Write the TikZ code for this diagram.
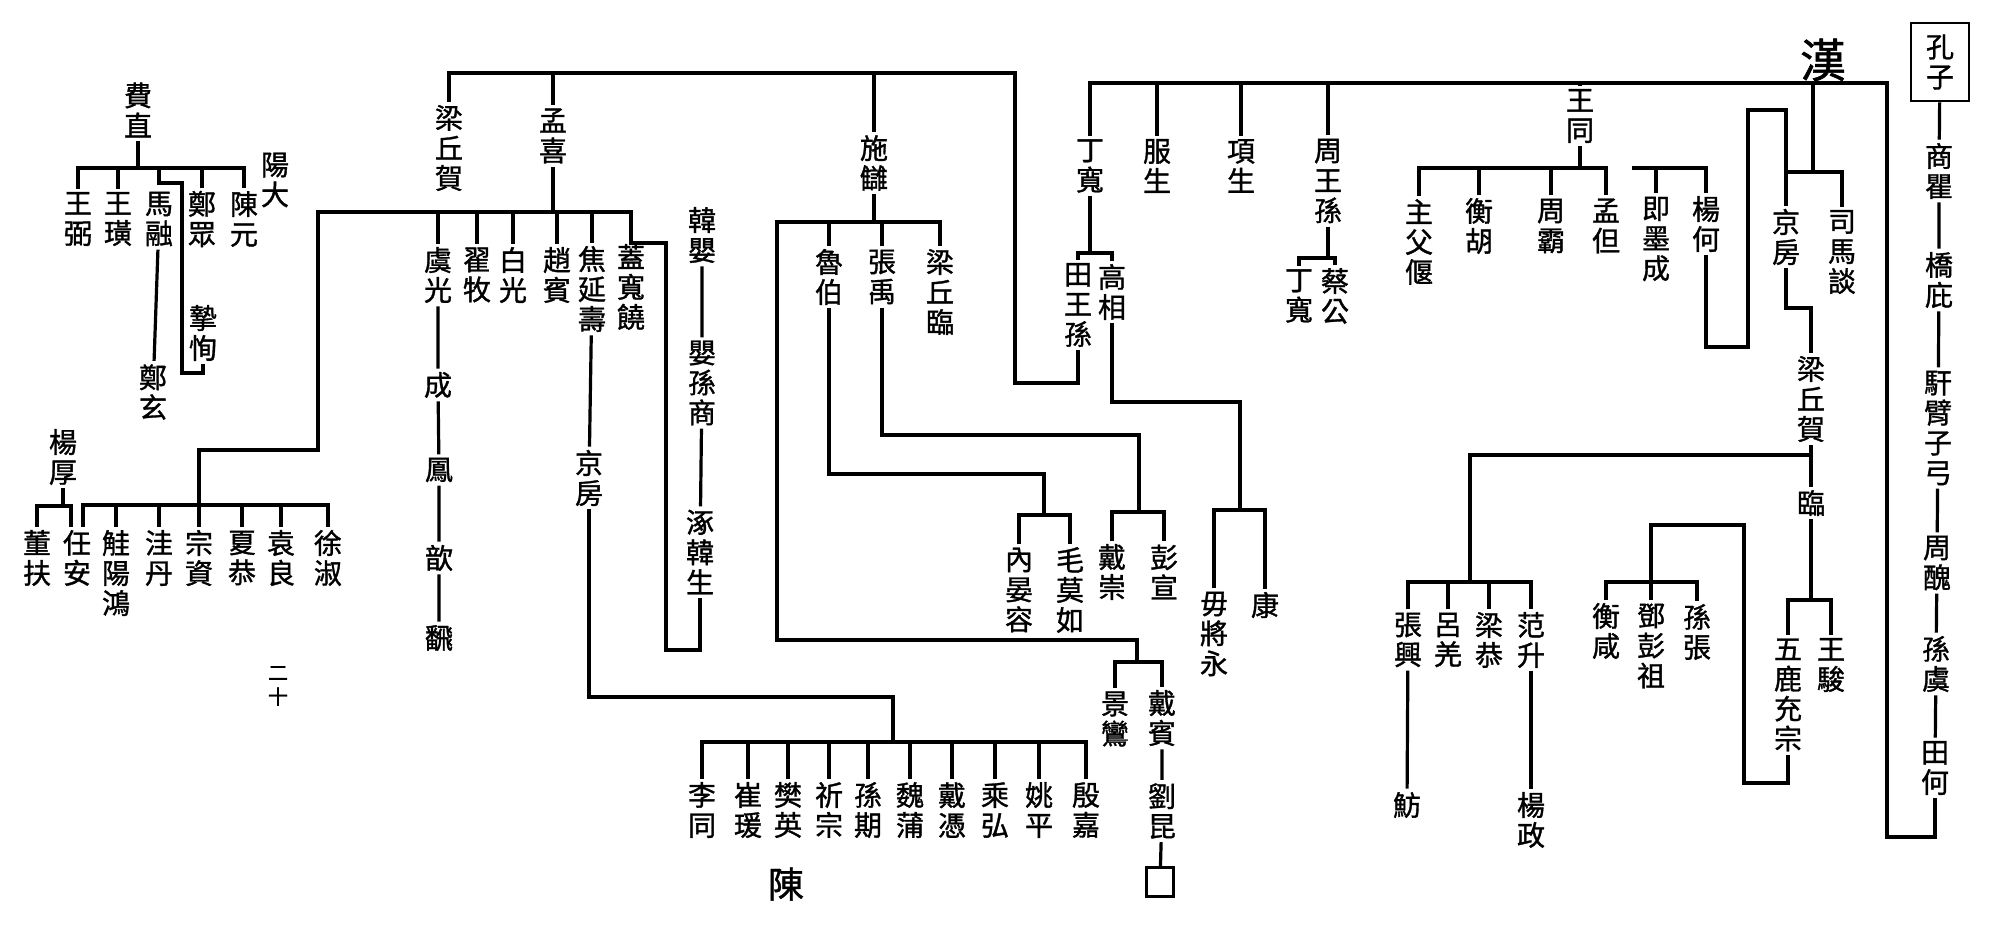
\documentclass[tikz,border=0pt]{standalone}
\usepackage{fontspec}
\newfontfamily\cjk[FakeBold=1.2]{Noto Sans CJK TC}
\begin{document}
\begin{tikzpicture}[x=0.5pt, y=-0.5pt,
  nm/.style={font=\cjk\fontsize{14}{15}\selectfont, align=center, inner sep=1.5pt},
  ln/.style={line width=1.6pt}]
  \useasboundingbox (0,0) rectangle (1990,930);

  % Confucius chain
  \node[nm, draw, line width=1.3pt, minimum width=29pt, minimum height=39pt] (kongzi) at (1940,62) {孔\\子};
  \node[nm] (shangqu) at (1939,171) {商\\瞿};
  \node[nm] (qiaobi) at (1939,280) {橋\\庇};
  \node[nm] (hanbi) at (1938,428) {馯\\臂\\子\\弓};
  \node[nm] (zhouchou) at (1937,563) {周\\醜};
  \node[nm] (sunyu) at (1936,664) {孫\\虞};
  \node[nm] (tianhe) at (1935,768) {田\\何};
  \node[font=\cjk\fontsize{23}{23}\selectfont, inner sep=0pt] (han) at (1823,60) {漢};
  \draw[ln] (kongzi) -- (shangqu) -- (qiaobi) -- (hanbi) -- (zhouchou) -- (sunyu) -- (tianhe);

  % Han trunk
  \node[nm] (dingkuan) at (1090,166) {丁\\寬};
  \node[nm] (fusheng) at (1157,166) {服\\生};
  \node[nm] (xiangsheng) at (1241,166) {項\\生};
  \node[nm] (zhouwangsun) at (1328,181) {周\\王\\孫};
  \node[nm] (wangtong) at (1580,116) {王\\同};
  \draw[ln] (tianhe) -- (tianhe |- 0,837) -| (1887,83) -| (dingkuan);
  \foreach \n in {fusheng,xiangsheng,zhouwangsun,wangtong}
    \draw[ln] (\n) -- (\n |- 0,83);

  % Ding Kuan, Zhou Wangsun
  \node[nm] (tianwangsun) at (1078,305) {田\\王\\孫};
  \node[nm] (gaoxiang) at (1112,292) {高\\相};
  \node[nm] (dingkuanb) at (1299,296) {丁\\寬};
  \node[nm] (caigong) at (1335,296) {蔡\\公};
  \draw[ln] (dingkuan) -- (dingkuan |- 0,253);
  \draw[ln] (tianwangsun) |- (gaoxiang |- 0,253) -- (gaoxiang);
  \draw[ln] (zhouwangsun) -- (zhouwangsun |- 0,258);
  \draw[ln] (dingkuanb) |- (caigong |- 0,258) -- (caigong);

  % Gao Xiang
  \node[nm] (wujiangyong) at (1214,634) {毋\\將\\永};
  \node[nm] (kang) at (1265,605) {康};
  \draw[ln] (gaoxiang) -- (gaoxiang |- 0,402) -| (1240,510);
  \draw[ln] (wujiangyong) |- (kang |- 0,510) -- (kang);

  % Tian Wangsun
  \node[nm] (liangqiuhe) at (449,148) {梁\\丘\\賀};
  \node[nm] (mengxi) at (553,136) {孟\\喜};
  \node[nm] (shichou) at (874,163) {施\\讎};
  \draw[ln] (tianwangsun) -- (tianwangsun |- 0,383) -| (1015,73) -| (liangqiuhe);
  \foreach \n in {mengxi,shichou}
    \draw[ln] (\n) -- (\n |- 0,73);

  % Shi Chou
  \node[nm] (lubo) at (829,277) {魯\\伯};
  \node[nm] (zhangyu) at (882,277) {張\\禹};
  \node[nm] (liangqiulin) at (940,292) {梁\\丘\\臨};
  \node[nm] (neiyanrong) at (1019,590) {內\\晏\\容};
  \node[nm] (maomoru) at (1070,590) {毛\\莫\\如};
  \node[nm] (daichong) at (1112,572) {戴\\崇};
  \node[nm] (pengxuan) at (1164,572) {彭\\宣};
  \node[nm] (jingluan) at (1115,719) {景\\鸞};
  \node[nm] (daibin) at (1162,718) {戴\\賓};
  \node[nm] (liukun) at (1162,811) {劉\\昆};
  \node[draw, line width=1.1pt, minimum width=13.5pt, minimum height=14.5pt] (emptybox) at (1160,882) {};
  \draw[ln] (shichou) -- (shichou |- 0,222);
  \draw[ln] (liangqiulin) |- (777,222) -- (777,640) -| (1137,662);
  \foreach \n in {lubo,zhangyu}
    \draw[ln] (\n) -- (\n |- 0,222);
  \draw[ln] (lubo) -- (lubo |- 0,474) -| (1044,515);
  \draw[ln] (neiyanrong) |- (maomoru |- 0,515) -- (maomoru);
  \draw[ln] (zhangyu) -- (zhangyu |- 0,435) -| (1139,512);
  \draw[ln] (daichong) |- (pengxuan |- 0,512) -- (pengxuan);
  \draw[ln] (jingluan) |- (daibin |- 0,662) -- (daibin);
  \draw[ln] (daibin) -- (liukun) -- (emptybox);

  % Meng Xi
  \node[nm] (yuguang) at (438,275) {虞\\光};
  \node[nm] (zhaimu) at (477,275) {翟\\牧};
  \node[nm] (baiguang) at (513,275) {白\\光};
  \node[nm] (zhaobin) at (557,275) {趙\\賓};
  \node[nm] (jiaoyanshou) at (592,289) {焦\\延\\壽};
  \node[nm] (gaikuanrao) at (631,287) {蓋\\寬\\饒};
  \node[nm] (cheng) at (438,385) {成};
  \node[nm] (feng) at (439,470) {鳳};
  \node[nm] (xin) at (439,558) {歆};
  \node[nm] (fan) at (439,638) {飜};
  \node[nm] (hanying) at (702,235) {韓\\嬰};
  \node[nm] (yingsunshang) at (702,383) {嬰\\孫\\商};
  \node[nm] (zhuohansheng) at (700,552) {涿\\韓\\生};
  \draw[ln] (mengxi) -- (mengxi |- 0,212);
  \foreach \n in {yuguang,zhaimu,baiguang,zhaobin,jiaoyanshou}
    \draw[ln] (\n) -- (\n |- 0,212);
  \draw[ln] (yuguang) -- (cheng) -- (feng) -- (xin) -- (fan);
  \draw[ln] (hanying) -- (yingsunshang) -- (zhuohansheng);

  % Eastern Han Meng school
  \node[nm] (yanghou) at (63,457) {楊\\厚};
  \node[nm] (dongfu) at (37,558) {董\\扶};
  \node[nm] (renan) at (77,558) {任\\安};
  \node[nm] (guiyanghong) at (116,573) {觟\\陽\\鴻};
  \node[nm] (wadan) at (159,558) {洼\\丹};
  \node[nm] (zongzi) at (199,558) {宗\\資};
  \node[nm] (xiagong) at (242,558) {夏\\恭};
  \node[nm] (yuanliang) at (281,558) {袁\\良};
  \node[nm] (xushu) at (328,558) {徐\\淑};
  \coordinate (renanl) at ([xshift=-3pt]renan.north);
  \coordinate (renanr) at ([xshift=3pt]renan.north);
  \draw[ln] (zongzi) -- (zongzi |- 0,450) -| (318,212) -| (631,243) -| (666,650) -| (zhuohansheng);
  \draw[ln] (renanr) |- (xushu |- 0,505) -- (xushu);
  \foreach \n in {guiyanghong,wadan,xiagong,yuanliang}
    \draw[ln] (\n) -- (\n |- 0,505);
  \draw[ln] (yanghou) -- (yanghou |- 0,506);
  \draw[ln] (dongfu) |- (renanl |- 0,506) -- (renanl);

  % Jing Fang (Jiao Yanshou)
  \node[nm] (jingfanga) at (589,478) {京\\房};
  \draw[ln] (jiaoyanshou) -- (jingfanga);
  \draw[ln] (jingfanga) -- (jingfanga |- 0,697) -| (893,742);
  \foreach \n/\x/\t in {liton/702/李\\同, cuiyuan/748/崔\\瑗, fanying/788/樊\\英,
      qizong/829/祈\\宗, sunqi/868/孫\\期, weipu/910/魏\\蒲, daiping/952/戴\\憑,
      chenghong/995/乘\\弘, yaoping/1039/姚\\平, yinjia/1086/殷\\嘉}
    \node[nm] (\n) at (\x,810) {\t};
  \draw[ln] (liton) |- (yinjia |- 0,742) -- (yinjia);
  \foreach \n in {cuiyuan,fanying,qizong,sunqi,weipu,daiping,chenghong,yaoping}
    \draw[ln] (\n) -- (\n |- 0,742);
  \node[font=\cjk\fontsize{18}{18}\selectfont, inner sep=0pt] (chen) at (786,884) {陳};

  % Fei Zhi
  \node[nm] (feizhi) at (138,110) {費\\直};
  \node[nm] (wangbi) at (78,219) {王\\弼};
  \node[nm] (wanghuang) at (118,219) {王\\璜};
  \node[nm] (marong) at (159,219) {馬\\融};
  \node[nm] (zhengzhong) at (202,219) {鄭\\眾};
  \node[nm] (chenyuan) at (244,219) {陳\\元};
  \node[nm] (yangda) at (275,180) {陽\\大};
  \node[nm] (zhixun) at (203,333) {摯\\恂};
  \node[nm] (zhengxuan) at (153,392) {鄭\\玄};
  \draw[ln] (feizhi) -- (feizhi |- 0,168);
  \draw[ln] (wangbi) |- (chenyuan |- 0,168) -- (chenyuan);
  \foreach \n in {wanghuang,zhengzhong}
    \draw[ln] (\n) -- (\n |- 0,168);
  \draw[ln] (marong |- 0,168) |- (182,183) -- (182,373) -| (zhixun);
  \draw[ln] (marong) -- (zhengxuan);

  % page number
  \node[font=\cjk\fontsize{10}{12}\selectfont, align=center, inner sep=0pt] (pagenum) at (278,686) {二\\十};

  % Wang Tong
  \node[nm] (zhufuyan) at (1419,242) {主\\父\\偃};
  \node[nm] (henghu) at (1479,226) {衡\\胡};
  \node[nm] (zhouba) at (1551,226) {周\\霸};
  \node[nm] (mengdan) at (1606,226) {孟\\但};
  \node[nm] (jimocheng) at (1656,239) {即\\墨\\成};
  \node[nm] (yanghe) at (1706,224) {楊\\何};
  \draw[ln] (wangtong) -- (wangtong |- 0,168);
  \draw[ln] (zhufuyan) |- (mengdan |- 0,168) -- (mengdan);
  \foreach \n in {henghu,zhouba}
    \draw[ln] (\n) -- (\n |- 0,168);
  \draw[ln] (1632,168) -| (yanghe);
  \draw[ln] (jimocheng) -- (jimocheng |- 0,168);

  % Jing Fang, Sima Tan
  \node[nm] (jingfangb) at (1786,237) {京\\房};
  \node[nm] (sima) at (1842,252) {司\\馬\\談};
  \draw[ln] (yanghe) -- (yanghe |- 0,347) -| (1748,110) -| (jingfangb);
  \draw[ln] (1813,83) -- (1813,172);
  \draw[ln] (jingfangb |- 0,172) -| (sima);

  % Liangqiu He
  \node[nm] (liangqiuheb) at (1811,399) {梁\\丘\\賀};
  \node[nm] (lin) at (1811,503) {臨};
  \draw[ln] (jingfangb) -- (jingfangb |- 0,308) -| (liangqiuheb);
  \draw[ln] (liangqiuheb) -- (lin);
  \draw[ln] (liangqiuheb |- 0,455) -| (1470,582);
  \node[nm] (zhangxing) at (1408,640) {張\\興};
  \node[nm] (lvqiang) at (1448,640) {呂\\羌};
  \node[nm] (lianggong) at (1489,640) {梁\\恭};
  \node[nm] (fansheng) at (1531,640) {范\\升};
  \node[nm] (fang) at (1407,805) {魴};
  \node[nm] (yangzheng) at (1531,820) {楊\\政};
  \draw[ln] (zhangxing) |- (fansheng |- 0,582) -- (fansheng);
  \foreach \n in {lvqiang,lianggong}
    \draw[ln] (\n) -- (\n |- 0,582);
  \draw[ln] (zhangxing) -- (fang);
  \draw[ln] (fansheng) -- (yangzheng);

  % Lin
  \node[nm] (wulu) at (1788,695) {五\\鹿\\充\\宗};
  \node[nm] (wangjun) at (1831,665) {王\\駿};
  \node[nm] (hengxian) at (1606,631) {衡\\咸};
  \node[nm] (dengpengzu) at (1651,646) {鄧\\彭\\祖};
  \node[nm] (sunzhang) at (1697,632) {孫\\張};
  \draw[ln] (lin) -- (lin |- 0,600);
  \draw[ln] (wulu) |- (wangjun |- 0,600) -- (wangjun);
  \draw[ln] (wulu) -- (wulu |- 0,783) -| (1744,525) -| (dengpengzu);
  \draw[ln] (hengxian) |- (sunzhang |- 0,582) -- (sunzhang);
\end{tikzpicture}
\end{document}
